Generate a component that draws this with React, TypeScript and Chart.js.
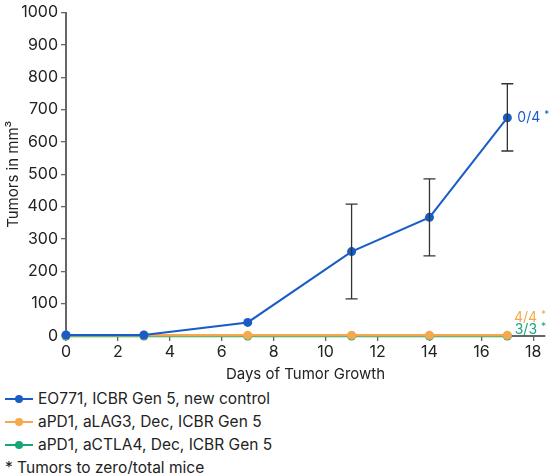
import { useEffect, useRef } from "react"
import { Chart, registerables } from "chart.js"

Chart.register(...registerables)

const days = [0, 3, 7, 11, 14, 17]
const controlMean = [3, 3, 42, 261, 367, 675]
const controlLow = [null, null, null, 115, 248, 572]
const controlHigh = [null, null, null, 408, 486, 780]
const lag3Mean = [2, 2, 2, 2, 2, 2]
const ctla4Mean = [0, 0, 0, 0, 0, 0]
const xTicks = [0, 2, 4, 6, 8, 10, 12, 14, 16, 18]
const yTicks = [0, 100, 200, 300, 400, 500, 600, 700, 800, 900, 1000]

const seriesNames = [
  "EO771, ICBR Gen 5, new control",
  "aPD1, aLAG3, Dec, ICBR Gen 5",
  "aPD1, aCTLA4, Dec, ICBR Gen 5",
]
const ratios = ["0/4", "4/4", "3/3"]

const BLUE = "#1a5cc6"
const ORANGE = "#f6a94c"
const GREEN = "#17a67a"
const FONT = "Inter, 'Noto Sans', sans-serif"

const errorBars = {
  id: "errorBars",
  afterDatasetsDraw(chart: any) {
    const { ctx, scales } = chart
    ctx.save()
    ctx.strokeStyle = "#333"
    ctx.lineWidth = 1.3
    days.forEach((d, i) => {
      const lo = controlLow[i]
      const hi = controlHigh[i]
      if (lo == null || hi == null) return
      const x = scales.x.getPixelForValue(d)
      const y1 = scales.y.getPixelForValue(lo)
      const y2 = scales.y.getPixelForValue(hi)
      ctx.beginPath()
      ctx.moveTo(x, y1)
      ctx.lineTo(x, y2)
      ctx.moveTo(x - 6, y1)
      ctx.lineTo(x + 6, y1)
      ctx.moveTo(x - 6, y2)
      ctx.lineTo(x + 6, y2)
      ctx.stroke()
    })
    ctx.restore()
  },
}

function drawRatio(ctx: any, text: string, x: number, y: number, color: string, align: "left" | "right") {
  ctx.fillStyle = color
  ctx.textBaseline = "middle"
  ctx.font = `14px ${FONT}`
  const w = ctx.measureText(text + " ").width
  ctx.font = `10px ${FONT}`
  const sw = ctx.measureText("*").width
  const start = align === "left" ? x : x - w - sw
  ctx.font = `14px ${FONT}`
  ctx.textAlign = "left"
  ctx.fillText(text, start, y)
  ctx.font = `10px ${FONT}`
  ctx.fillText("*", start + w, y - 3)
}

const ratioLabels = {
  id: "ratioLabels",
  afterDraw(chart: any) {
    const { ctx, scales } = chart
    ctx.save()
    const lastX = scales.x.getPixelForValue(days[days.length - 1])
    const lastY = scales.y.getPixelForValue(controlMean[controlMean.length - 1])
    drawRatio(ctx, ratios[0], lastX + 10, lastY, BLUE, "left")
    const right = chart.chartArea.right + 1
    const base = scales.y.getPixelForValue(0)
    drawRatio(ctx, ratios[1], right, base - 18, ORANGE, "right")
    drawRatio(ctx, ratios[2], right, base - 6, GREEN, "right")
    ctx.restore()
  },
}

function LegendIcon({ color }: { color: string }) {
  return (
    <svg width="30" height="12" style={{ marginRight: 4 }}>
      <line x1="1" y1="6" x2="29" y2="6" stroke={color} strokeWidth="2" />
      <circle cx="15" cy="6" r="4" fill={color} />
    </svg>
  )
}

export default function App() {
  const chartRef = useRef<HTMLCanvasElement>(null)
  const chartInstance = useRef<Chart | null>(null)

  useEffect(() => {
    document.body.style.margin = "0"
    if (!chartRef.current) return
    if (chartInstance.current) chartInstance.current.destroy()
    const ctx = chartRef.current.getContext("2d")
    if (!ctx) return

    const point = (color: string) => ({
      borderColor: color,
      backgroundColor: color,
      pointBackgroundColor: color,
      pointBorderColor: color,
      pointRadius: 4.5,
      pointBorderWidth: 0,
      tension: 0,
    })

    // first dataset is painted last, so blue sits on top, green at the bottom
    chartInstance.current = new Chart(ctx, {
      type: "line",
      data: {
        datasets: [
          {
            label: seriesNames[0],
            data: days.map((d, i) => ({ x: d, y: controlMean[i] })),
            borderWidth: 2,
            ...point(BLUE),
          },
          {
            label: seriesNames[1],
            data: days.map((d, i) => ({ x: d, y: lag3Mean[i] })),
            borderWidth: 2.5,
            ...point(ORANGE),
          },
          {
            label: seriesNames[2],
            data: days.map((d, i) => ({ x: d, y: ctla4Mean[i] })),
            borderWidth: 2.5,
            ...point(GREEN),
          },
        ],
      },
      options: {
        animation: false,
        responsive: true,
        maintainAspectRatio: false,
        clip: false,
        layout: { padding: { top: 10, right: 5, left: 0, bottom: 0 } },
        plugins: {
          legend: { display: false },
          tooltip: { enabled: false },
        },
        scales: {
          x: {
            type: "linear",
            min: 0,
            max: 18.45,
            afterFit: (s: any) => {
              s.height = 49
            },
            afterBuildTicks: (s: any) => {
              s.ticks = xTicks.map((v) => ({ value: v }))
            },
            ticks: {
              font: { family: FONT, size: 16 },
              color: "#222",
              padding: 2,
              maxRotation: 0,
              callback: (v: any) => String(v),
            },
            grid: {
              drawOnChartArea: false,
              drawTicks: true,
              tickLength: 5,
              color: "#666",
              lineWidth: 1.3,
            },
            border: { display: true, color: "#666", width: 2 },
            title: {
              display: true,
              text: "Days of Tumor Growth",
              font: { family: FONT, size: 15 },
              color: "#222",
              padding: { top: 0, bottom: 2 },
            },
          },
          y: {
            type: "linear",
            min: 0,
            max: 1000,
            afterFit: (s: any) => {
              s.width = 66
            },
            afterBuildTicks: (s: any) => {
              s.ticks = yTicks.map((v) => ({ value: v }))
            },
            ticks: {
              font: { family: FONT, size: 16 },
              color: "#222",
              padding: 3,
              callback: (v: any) => String(v),
            },
            grid: {
              drawOnChartArea: false,
              drawTicks: true,
              tickLength: 5,
              color: "#666",
              lineWidth: 1.3,
            },
            border: { display: true, color: "#666", width: 2 },
            title: {
              display: true,
              text: "Tumors in mm³",
              font: { family: FONT, size: 15 },
              color: "#222",
              padding: { top: 4, bottom: 0 },
            },
          },
        },
      },
      plugins: [errorBars, ratioLabels],
    })

    return () => {
      if (chartInstance.current) {
        chartInstance.current.destroy()
        chartInstance.current = null
      }
    }
  }, [])

  const colors = [BLUE, ORANGE, GREEN]
  const rowStyle = {
    display: "flex",
    alignItems: "center",
    height: 23,
    fontSize: 15.5,
    color: "#222",
  }

  return (
    <div style={{ width: 550, height: 474, fontFamily: FONT, position: "relative" }}>
      <div style={{ width: 550, height: 385, position: "relative" }}>
        <canvas ref={chartRef} />
      </div>
      <div style={{ paddingLeft: 4, paddingTop: 2 }}>
        {seriesNames.map((name, i) => (
          <div key={name} style={rowStyle}>
            <LegendIcon color={colors[i]} />
            <span>{name}</span>
          </div>
        ))}
        <div style={{ ...rowStyle, paddingLeft: 1 }}>* Tumors to zero/total mice</div>
      </div>
    </div>
  )
}
